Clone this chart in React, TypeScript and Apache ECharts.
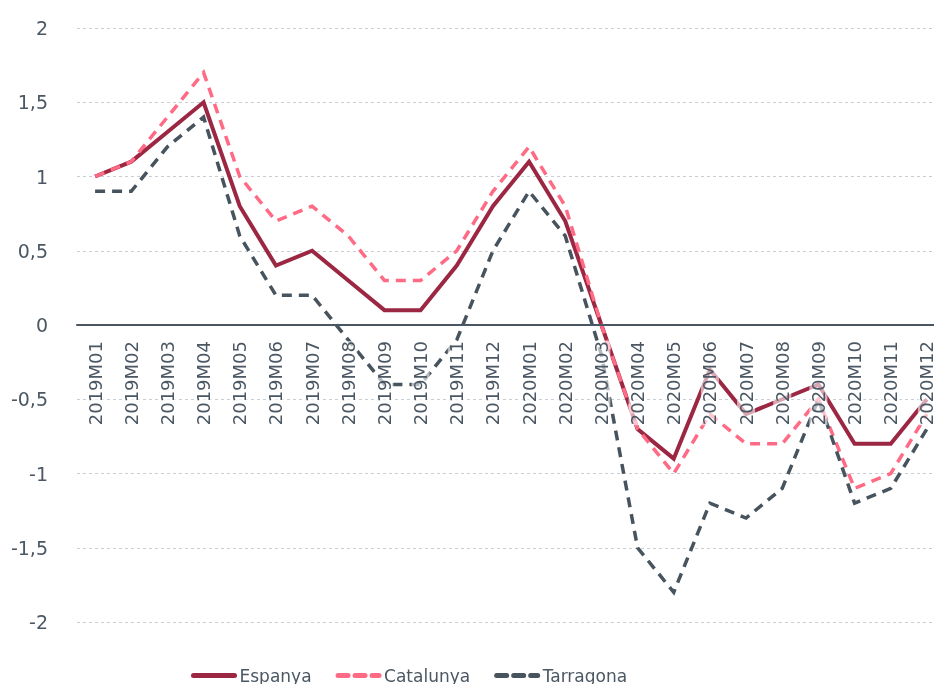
import React, { useEffect, useRef } from "react";
import * as echarts from "echarts";

const categories = [
  "2019M01", "2019M02", "2019M03", "2019M04", "2019M05", "2019M06",
  "2019M07", "2019M08", "2019M09", "2019M10", "2019M11", "2019M12",
  "2020M01", "2020M02", "2020M03", "2020M04", "2020M05", "2020M06",
  "2020M07", "2020M08", "2020M09", "2020M10", "2020M11", "2020M12",
];

const espanya = [1.0, 1.1, 1.3, 1.5, 0.8, 0.4, 0.5, 0.3, 0.1, 0.1, 0.4, 0.8,
  1.1, 0.7, 0.0, -0.7, -0.9, -0.3, -0.6, -0.5, -0.4, -0.8, -0.8, -0.5];
const catalunya = [1.0, 1.1, 1.4, 1.7, 1.0, 0.7, 0.8, 0.6, 0.3, 0.3, 0.5, 0.9,
  1.2, 0.8, 0.0, -0.7, -1.0, -0.6, -0.8, -0.8, -0.5, -1.1, -1.0, -0.6];
const tarragona = [0.9, 0.9, 1.2, 1.4, 0.6, 0.2, 0.2, -0.1, -0.4, -0.4, -0.1, 0.5,
  0.9, 0.6, -0.2, -1.5, -1.8, -1.2, -1.3, -1.1, -0.5, -1.2, -1.1, -0.7];

const yMin = -2;
const yMax = 2;
const yInterval = 0.5;

const FONT = "DejaVu Sans";
const TEXT = "#4b5763";

const GRID_TOP = 28;
const GRID_BOTTOM = 62;
const H = 684;

export default function App() {
  const ref = useRef<HTMLDivElement>(null);
  useEffect(() => {
    if (!ref.current) return;
    const chart = echarts.init(ref.current, undefined, { renderer: "svg" });
    const gridH = H - GRID_TOP - GRID_BOTTOM;
    const zeroOffset = -gridH * (0 - yMin) / (yMax - yMin);
    const mk = (name: string, data: number[], color: string, width: number, type: any) => ({
      name,
      type: "line",
      data,
      symbol: "none",
      showSymbol: false,
      lineStyle: { color, width, type, cap: "butt", join: "miter" },
      itemStyle: { color },
      z: 2,
    });
    chart.setOption({
      animation: false,
      textStyle: { fontFamily: FONT },
      grid: {
        left: 77,
        top: GRID_TOP,
        width: 868,
        bottom: GRID_BOTTOM,
        containLabel: false,
        outerBoundsMode: "none",
      },
      legend: {
        left: 186,
        top: 662,
        itemWidth: 41,
        itemHeight: 14,
        itemGap: 24,
        itemStyle: { opacity: 0 },
        lineStyle: { width: 5, cap: "round" },
        textStyle: { color: TEXT, fontSize: 17, fontFamily: FONT },
        data: ["Espanya", "Catalunya", "Tarragona"],
      },
      xAxis: {
        type: "category",
        data: categories,
        boundaryGap: true,
        z: 10,
        offset: zeroOffset,
        axisLine: { onZero: false, lineStyle: { color: "#4a5661", width: 2 } },
        axisTick: { show: false },
        axisLabel: {
          rotate: 90,
          margin: 16,
          color: TEXT,
          fontSize: 18,
          fontFamily: FONT,
          interval: 0,
          backgroundColor: "rgba(255,255,255,0.6)",
        },
      },
      yAxis: {
        type: "value",
        min: yMin,
        max: yMax,
        interval: yInterval,
        axisLine: { show: false },
        axisTick: { show: false },
        axisLabel: {
          margin: 29,
          color: TEXT,
          fontSize: 19,
          fontFamily: FONT,
          formatter: (v: number) => String(v).replace(".", ","),
        },
        splitLine: { lineStyle: { color: "#c8ced3", width: 1, type: [3, 3] } },
      },
      series: [
        mk("Espanya", espanya, "#9b2743", 4, "solid"),
        mk("Catalunya", catalunya, "#ff6b85", 3.5, [10, 7]),
        mk("Tarragona", tarragona, "#47545e", 3.5, [10, 7]),
      ],
    });
    return () => chart.dispose();
  }, []);
  return (
    <div
      ref={ref}
      style={{ position: "fixed", left: 0, top: 0, width: 934, height: 684 }}
    />
  );
}
